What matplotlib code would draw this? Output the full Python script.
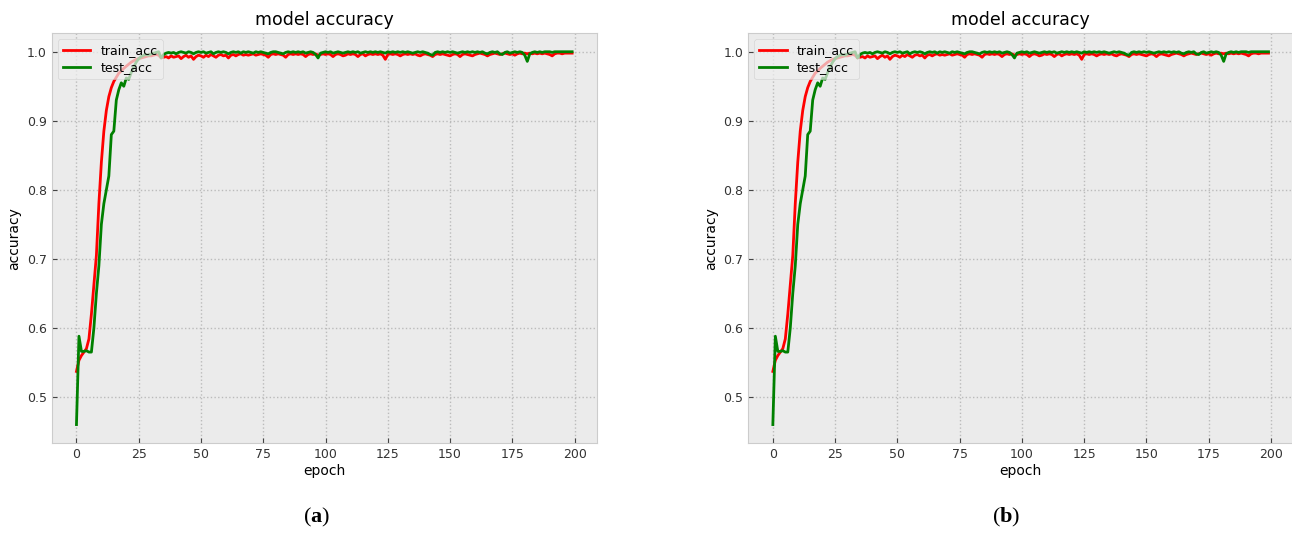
import matplotlib
matplotlib.use('Agg')
import matplotlib.pyplot as plt
import numpy as np

plt.style.use('bmh')
plt.rcParams['mathtext.fontset'] = 'custom'
plt.rcParams['mathtext.rm'] = 'Liberation Serif'
plt.rcParams['mathtext.bf'] = 'Liberation Serif:bold'

train_acc = [
    0.537, 0.553, 0.560, 0.565, 0.570, 0.584, 0.620, 0.662, 0.705, 0.780,
    0.840, 0.885, 0.915, 0.935, 0.948, 0.957, 0.963, 0.969, 0.972, 0.976,
    0.979, 0.982, 0.985, 0.987, 0.989, 0.990, 0.991, 0.992, 0.993, 0.994,
    0.994, 0.995, 0.996, 0.995, 0.991, 0.992, 0.993, 0.991, 0.994, 0.992,
    0.993, 0.994, 0.990, 0.993, 0.995, 0.992, 0.994, 0.989, 0.993, 0.995,
    0.994, 0.992, 0.995, 0.993, 0.996, 0.994, 0.992, 0.995, 0.996, 0.994,
    0.995, 0.991, 0.995, 0.996, 0.994, 0.996, 0.997, 0.995, 0.996, 0.995,
    0.996, 0.997, 0.995, 0.996, 0.997, 0.996, 0.995, 0.992, 0.996, 0.997,
    0.996, 0.997, 0.996, 0.995, 0.992, 0.996, 0.997, 0.996, 0.997, 0.996,
    0.997, 0.996, 0.993, 0.996, 0.997, 0.996, 0.997, 0.995, 0.996, 0.997,
    0.996, 0.997, 0.996, 0.993, 0.996, 0.997, 0.996, 0.994, 0.995, 0.997,
    0.996, 0.997, 0.996, 0.993, 0.996, 0.997, 0.994, 0.996, 0.997, 0.996,
    0.997, 0.996, 0.997, 0.995, 0.989, 0.996, 0.997, 0.996, 0.997, 0.996,
    0.994, 0.996, 0.997, 0.996, 0.997, 0.996, 0.997, 0.995, 0.994, 0.996,
    0.997, 0.996, 0.995, 0.993, 0.996, 0.997, 0.996, 0.997, 0.996, 0.995,
    0.994, 0.996, 0.997, 0.996, 0.993, 0.996, 0.997, 0.996, 0.995, 0.994,
    0.996, 0.997, 0.998, 0.997, 0.996, 0.994, 0.996, 0.997, 0.998, 0.997,
    0.996, 0.997, 0.998, 0.997, 0.996, 0.997, 0.995, 0.997, 0.998, 0.997,
    0.998, 0.997, 0.998, 0.997, 0.998, 0.997, 0.998, 0.997, 0.998, 0.997,
    0.996, 0.994, 0.997, 0.998, 0.998, 0.997, 0.998, 0.998, 0.998, 0.998,
]

test_acc = [
    0.460, 0.588, 0.566, 0.566, 0.567, 0.565, 0.565, 0.600, 0.650, 0.690,
    0.750, 0.780, 0.800, 0.820, 0.880, 0.885, 0.930, 0.945, 0.955, 0.950,
    0.962, 0.960, 0.970, 0.978, 0.985, 0.990, 0.993, 0.995, 0.996, 0.995,
    0.997, 0.998, 0.999, 1.000, 0.991, 0.996, 0.998, 0.999, 0.998, 0.999,
    0.997, 0.999, 1.000, 0.999, 0.998, 1.000, 0.999, 0.997, 0.999, 1.000,
    0.999, 1.000, 0.998, 0.999, 1.000, 0.997, 0.999, 1.000, 0.999, 1.000,
    0.999, 0.997, 0.999, 1.000, 0.999, 1.000, 0.998, 1.000, 0.999, 1.000,
    0.999, 0.998, 1.000, 0.999, 1.000, 0.999, 0.998, 0.997, 0.999, 1.000,
    1.000, 0.999, 0.998, 0.997, 0.999, 1.000, 0.999, 1.000, 0.999, 1.000,
    0.999, 1.000, 0.998, 0.999, 1.000, 0.999, 0.996, 0.991, 0.998, 0.999,
    1.000, 0.999, 1.000, 0.998, 0.999, 1.000, 0.999, 0.998, 0.999, 1.000,
    0.999, 1.000, 0.999, 1.000, 0.998, 0.999, 1.000, 0.999, 1.000, 0.999,
    1.000, 0.999, 1.000, 0.999, 0.998, 1.000, 0.999, 1.000, 0.999, 1.000,
    0.999, 1.000, 0.999, 1.000, 0.999, 0.998, 0.999, 1.000, 0.999, 1.000,
    0.999, 0.998, 0.996, 0.995, 0.999, 1.000, 0.999, 1.000, 0.999, 1.000,
    0.999, 1.000, 0.999, 0.998, 0.999, 1.000, 0.999, 1.000, 0.999, 1.000,
    0.999, 1.000, 0.999, 1.000, 0.998, 0.997, 0.999, 1.000, 0.999, 1.000,
    0.997, 0.996, 0.999, 1.000, 0.998, 0.999, 1.000, 0.999, 1.000, 0.999,
    0.995, 0.986, 0.997, 0.999, 1.000, 0.999, 1.000, 0.999, 1.000, 1.000,
    1.000, 0.999, 1.000, 1.000, 1.000, 1.000, 1.000, 1.000, 1.000, 1.000,
]

epochs = np.arange(len(train_acc))
panels = ['a', 'b']

fig = plt.figure(figsize=(12.92, 5.34), dpi=100)
fig.patch.set_facecolor('white')

lefts = [0.040, 0.579]
caption_x = [0.245, 0.779]

for left, cx, tag in zip(lefts, caption_x, panels):
    ax = fig.add_axes([left, 0.170, 0.422, 0.768])
    ax.set_facecolor('#ebebeb')
    ax.plot(epochs, train_acc, color='red', lw=2.0, label='train_acc')
    ax.plot(epochs, test_acc, color='green', lw=2.0, label='test_acc')
    ax.set_title('model accuracy', fontsize=12.5)
    ax.set_xlabel('epoch', fontsize=10, labelpad=2)
    ax.set_ylabel('accuracy', fontsize=10)
    ax.tick_params(labelsize=9, colors='#444444', labelcolor='#333333')
    ax.set_xticks([0, 25, 50, 75, 100, 125, 150, 175, 200])
    ax.set_yticks([0.5, 0.6, 0.7, 0.8, 0.9, 1.0])
    ax.grid(True, color='#bbbbbb', linestyle=':', linewidth=1.0)
    for s in ax.spines.values():
        s.set_color('#cccccc')
    ax.legend(loc='upper left', fontsize=9, handlelength=2.2,
              borderpad=0.4, labelspacing=0.3, framealpha=0.7,
              facecolor='#eeeeee', edgecolor='#cccccc')
    fig.text(cx, 0.03, r'($\mathbf{' + tag + '}$)', family='Liberation Serif',
             fontsize=16, ha='center', va='center')

plt.savefig('out.png', dpi=100)
